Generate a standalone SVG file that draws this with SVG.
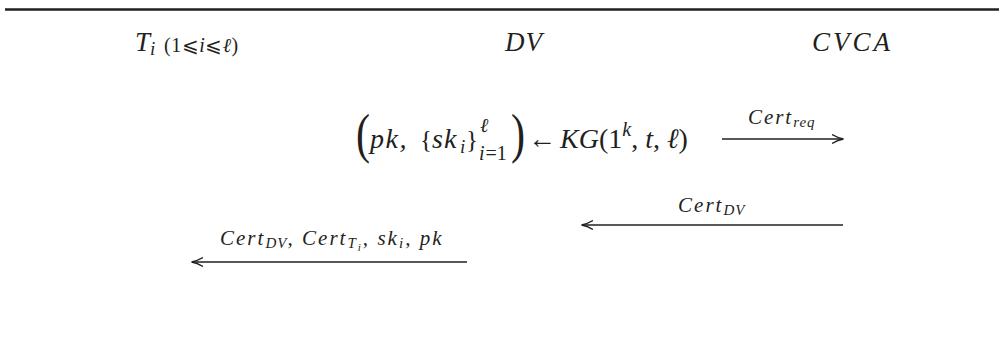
<svg xmlns="http://www.w3.org/2000/svg" width="999" height="354" viewBox="0 0 999 354">
<style>
.m{font-family:"Liberation Serif","DejaVu Serif",serif;font-style:italic;fill:#231f20}
.r{font-family:"Liberation Serif","DejaVu Serif",serif;font-style:normal;fill:#231f20}
.h{font-size:27px}
.l{font-size:21px;letter-spacing:1.5px}
.f{font-size:28px}
.ln{stroke:#231f20;stroke-width:1.6;fill:none}
</style>
<defs>
<marker id="ah" viewBox="0 0 12 10" refX="11" refY="5" markerWidth="12" markerHeight="10" markerUnits="userSpaceOnUse" orient="auto">
<path d="M0,0.5 Q6,4 11.5,5 Q6,6 0,9.5" fill="none" stroke="#231f20" stroke-width="1.3"/>
</marker>
</defs>
<line x1="5" y1="9.5" x2="999" y2="9.5" stroke="#231f20" stroke-width="2.5"/>
<g id="party-T">
<text x="135" y="51" class="m h">T<tspan font-size="19" dy="4">i</tspan></text>
<text x="164" y="52" class="r" font-size="20" letter-spacing="0.5">(1⩽<tspan class="m">i</tspan>⩽<tspan class="m">ℓ</tspan>)</text>
</g>
<g id="party-DV">
<text x="505" y="51" class="m h" letter-spacing="1">DV</text>
</g>
<g id="party-CVCA">
<text x="812" y="51" class="m h" letter-spacing="3">CVCA</text>
</g>
<g id="keygen">
<text transform="translate(356,152) scale(0.78,1)" class="r" font-size="54">(</text>
<text x="370" y="148" class="m f" letter-spacing="1.5">pk,</text>
<text x="420" y="148" class="r" font-size="25">{</text>
<text x="432" y="148" class="m f" letter-spacing="1">sk</text>
<text x="460" y="153" class="m" font-size="19">i</text>
<text x="466" y="148" class="r" font-size="25">}</text>
<text x="480" y="132" class="m" font-size="20">ℓ</text>
<text x="479" y="160" class="m" font-size="20">i<tspan class="r" dx="1">=1</tspan></text>
<text transform="translate(511,152) scale(0.78,1)" class="r" font-size="54">)</text>
<text x="528" y="148" class="r f">←</text>
<text x="560" y="148" class="m f">KG<tspan class="r">(1</tspan><tspan font-size="20" dy="-12">k</tspan><tspan class="r" dy="12">,</tspan> t<tspan class="r">,</tspan> ℓ<tspan class="r">)</tspan></text>
</g>
<g id="connectors">
<line x1="722" y1="139" x2="843" y2="139" class="ln" marker-end="url(#ah)"/>
<line x1="843" y1="225" x2="582" y2="225" class="ln" marker-end="url(#ah)"/>
<line x1="467" y1="262" x2="192" y2="262" class="ln" marker-end="url(#ah)"/>
<text x="748" y="124" class="m l" textLength="67" lengthAdjust="spacing">Cert<tspan font-size="15" dy="3" letter-spacing="0.5">req</tspan></text>
<text x="678" y="212" class="m l" textLength="67" lengthAdjust="spacing">Cert<tspan font-size="15" dy="3" letter-spacing="0.5">DV</tspan></text>
<text x="220" y="245" class="m l" textLength="223" lengthAdjust="spacing">Cert<tspan font-size="15" dy="3" letter-spacing="0.5">DV</tspan><tspan dy="-3">, Cert</tspan><tspan font-size="15" dy="3">T</tspan><tspan font-size="11" dy="3">i</tspan><tspan dy="-6">, sk</tspan><tspan font-size="15" dy="3">i</tspan><tspan dy="-3">, pk</tspan></text>
</g>
</svg>
